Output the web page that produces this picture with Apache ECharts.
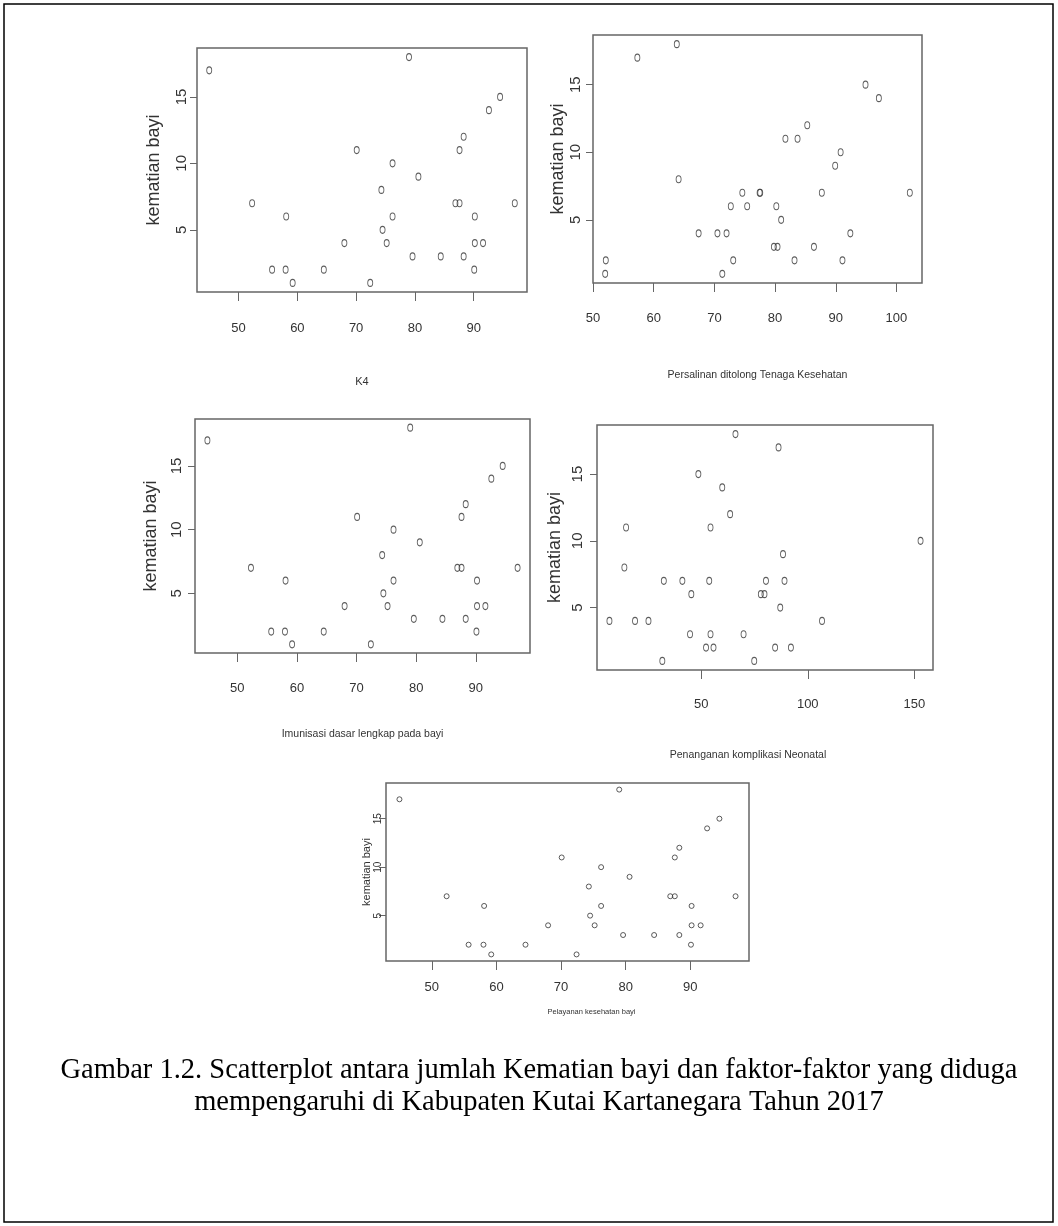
<!DOCTYPE html>
<html>
<head>
<meta charset="utf-8">
<script src="https://cdn.jsdelivr.net/npm/echarts@6/dist/echarts.min.js"></script>
<style>
  html, body { margin: 0; padding: 0; background: #fff; }
  #chart { width: 1058px; height: 1226px; }
</style>
</head>
<body>
<div id="chart"></div>
<script>
// values (kematian bayi vs each factor)
const k4X = [45.0, 52.3, 55.7, 58.0, 58.1, 59.2, 64.5, 68.0, 70.1, 72.4, 74.3, 74.5, 75.2, 76.2, 76.2, 79.0, 79.6, 80.6, 84.4, 86.9, 87.6, 87.6, 88.3, 88.3, 90.2, 90.2, 90.1, 91.6, 92.6, 94.5, 97.0]
const k4Y = [17, 7, 2, 2, 6, 1, 2, 4, 11, 1, 8, 5, 4, 10, 6, 18, 3, 9, 3, 7, 7, 11, 12, 3, 6, 4, 2, 4, 14, 15, 7]

const persalinanX = [52.0, 52.1, 57.3, 63.8, 64.1, 67.4, 70.5, 71.3, 72.0, 72.7, 73.1, 74.6, 75.4, 77.45, 77.55, 79.8, 80.2, 80.4, 81.0, 81.7, 83.2, 83.7, 85.3, 86.4, 87.7, 89.9, 90.8, 91.1, 92.4, 94.9, 97.1, 102.2]
const persalinanY = [1, 2, 17, 18, 8, 4, 4, 1, 4, 6, 2, 7, 6, 7, 7, 3, 6, 3, 5, 11, 2, 11, 12, 3, 7, 9, 10, 2, 4, 15, 14, 7]

const imunisasiX = [45.0, 52.3, 55.7, 58.0, 58.1, 59.2, 64.5, 68.0, 70.1, 72.4, 74.3, 74.5, 75.2, 76.2, 76.2, 79.0, 79.6, 80.6, 84.4, 86.9, 87.6, 87.6, 88.3, 88.3, 90.2, 90.2, 90.1, 91.6, 92.6, 94.5, 97.0]
const imunisasiY = [17, 7, 2, 2, 6, 1, 2, 4, 11, 1, 8, 5, 4, 10, 6, 18, 3, 9, 3, 7, 7, 11, 12, 3, 6, 4, 2, 4, 14, 15, 7]

const neonatalX = [7.0, 14.0, 14.8, 19.0, 25.3, 31.8, 32.5, 41.2, 44.8, 45.4, 48.7, 52.3, 53.8, 54.4, 54.4, 55.8, 59.9, 63.6, 66.1, 69.9, 74.9, 78.0, 79.7, 80.4, 84.7, 86.3, 87.1, 88.4, 89.1, 92.1, 106.7, 152.9]
const neonatalY = [4, 8, 11, 4, 4, 1, 7, 7, 3, 6, 15, 2, 7, 11, 3, 2, 14, 12, 18, 3, 1, 6, 6, 7, 2, 17, 5, 9, 7, 2, 4, 10]

const pelayananX = [45.0, 52.3, 55.7, 58.0, 58.1, 59.2, 64.5, 68.0, 70.1, 72.4, 74.3, 74.5, 75.2, 76.2, 76.2, 79.0, 79.6, 80.6, 84.4, 86.9, 87.6, 87.6, 88.3, 88.3, 90.2, 90.2, 90.1, 91.6, 92.6, 94.5, 97.0]
const pelayananY = [17, 7, 2, 2, 6, 1, 2, 4, 11, 1, 8, 5, 4, 10, 6, 18, 3, 9, 3, 7, 7, 11, 12, 3, 6, 4, 2, 4, 14, 15, 7]

// tick labels
const yTicks = [5, 10, 15]
const xTicks100 = [50, 60, 70, 80, 90]
const xTicksPersalinan = [50, 60, 70, 80, 90, 100]
const xTicksNeonatal = [50, 100, 150]

const yName = 'kematian bayi'
const xNames = [
  'K4',
  'Persalinan ditolong Tenaga Kesehatan',
  'Imunisasi dasar lengkap pada bayi',
  'Penanganan komplikasi Neonatal',
  'Pelayanan kesehatan bayi'
]
const caption = [
  'Gambar 1.2. Scatterplot antara jumlah Kematian bayi dan faktor-faktor yang diduga',
  'mempengaruhi di Kabupaten Kutai Kartanegara Tahun 2017'
]

const NARROW = "'Liberation Sans Narrow', 'Liberation Sans', Arial, sans-serif"
const SANS = "'Liberation Sans', Arial, sans-serif"
const SERIF = "'Liberation Serif', 'Times New Roman', serif"
const RING = 'path://M0,-10A10,10 0 1,1 0,10A10,10 0 1,1 0,-10Z'

// R style axis range: data range padded by 4% each side
function rRange(v) {
  const lo = Math.min(...v)
  const hi = Math.max(...v)
  const d = (hi - lo) * 0.04
  return [lo - d, hi + d]
}

const panels = [
  { x: k4X, y: k4Y, ticks: xTicks100, name: xNames[0],
    grid: { left: 197, top: 48, width: 330, height: 244 },
    xMargin: 30, xGap: 84, yMargin: 8, yGap: 34, shift: 0,
    xFont: 13, xNameFont: 11, yFont: 15, yNameFont: 18, sym: [5, 7] },
  { x: persalinanX, y: persalinanY, ticks: xTicksPersalinan, name: xNames[1],
    grid: { left: 593, top: 35, width: 329, height: 248 },
    xMargin: 29, xGap: 87, yMargin: 10, yGap: 22, shift: 0,
    xFont: 13, xNameFont: 10.5, yFont: 15, yNameFont: 18, sym: [5, 7] },
  { x: imunisasiX, y: imunisasiY, ticks: xTicks100, name: xNames[2],
    grid: { left: 195, top: 419, width: 335, height: 234 },
    xMargin: 29, xGap: 76, yMargin: 11, yGap: 35, shift: 0,
    xFont: 13, xNameFont: 10.5, yFont: 15, yNameFont: 18, sym: [5, 7] },
  { x: neonatalX, y: neonatalY, ticks: xTicksNeonatal, name: xNames[3],
    grid: { left: 597, top: 425, width: 336, height: 245 },
    xMargin: 28, xGap: 80, yMargin: 12, yGap: 33, shift: -17,
    xFont: 13, xNameFont: 10.5, yFont: 15, yNameFont: 18, sym: [5, 7] },
  { x: pelayananX, y: pelayananY, ticks: xTicks100, name: xNames[4],
    grid: { left: 386, top: 783, width: 363, height: 178 },
    xMargin: 20, xGap: 47, yMargin: 3, yGap: 10, shift: 24,
    xFont: 13, xNameFont: 7.5, yFont: 10, yNameFont: 11, sym: [5, 5] }
]

const grid = []
const xAxis = []
const yAxis = []
const series = []

panels.forEach((p, i) => {
  grid.push(Object.assign({
    show: true,
    borderColor: '#666',
    borderWidth: 1.5,
    backgroundColor: 'transparent',
    containLabel: false,
    outerBoundsMode: 'none'
  }, p.grid))

  const xr = rRange(p.x)
  xAxis.push({
    type: 'value',
    gridIndex: i,
    min: xr[0],
    max: xr[1],
    name: p.name,
    nameLocation: 'middle',
    nameGap: p.xGap,
    nameTextStyle: {
      fontFamily: NARROW,
      fontSize: p.xNameFont,
      color: '#333',
      padding: p.shift >= 0 ? [0, 0, 0, p.shift * 2] : [0, -p.shift * 2, 0, 0]
    },
    axisLine: { show: false },
    splitLine: { show: false },
    axisTick: { show: true, inside: false, length: 9, customValues: p.ticks, lineStyle: { color: '#666', width: 1 } },
    axisLabel: { show: true, margin: p.xMargin, customValues: p.ticks, fontFamily: NARROW, fontSize: p.xFont, color: '#333' }
  })

  const yr = rRange(p.y)
  yAxis.push({
    type: 'value',
    gridIndex: i,
    min: yr[0],
    max: yr[1],
    name: yName,
    nameLocation: 'middle',
    nameRotate: 90,
    nameGap: p.yGap,
    nameTextStyle: { fontFamily: SANS, fontSize: p.yNameFont, color: '#333' },
    axisLine: { show: false },
    splitLine: { show: false },
    axisTick: { show: true, inside: false, length: 7, customValues: yTicks, lineStyle: { color: '#666', width: 1 } },
    axisLabel: { show: true, rotate: 90, margin: p.yMargin, customValues: yTicks, fontFamily: SANS, fontSize: p.yFont, color: '#333' }
  })

  series.push({
    type: 'scatter',
    xAxisIndex: i,
    yAxisIndex: i,
    symbol: RING,
    symbolSize: p.sym,
    silent: true,
    itemStyle: { color: 'rgba(255,255,255,0)', borderColor: '#333', borderWidth: 1 },
    data: p.x.map((v, k) => [v, p.y[k]])
  })
})

const myChart = echarts.init(document.getElementById('chart'), null, { renderer: 'canvas' })
const option = {
  backgroundColor: '#fff',
  animation: false,
  grid: grid,
  xAxis: xAxis,
  yAxis: yAxis,
  series: series,
  graphic: [
    {
      type: 'rect',
      shape: { x: 4, y: 4, width: 1049, height: 1218 },
      style: { fill: 'none', stroke: '#000', lineWidth: 1.5 },
      silent: true
    },
    {
      type: 'text',
      x: 539,
      y: 1071,
      style: { text: caption[0], fontFamily: SERIF, fontSize: 28.5, fill: '#000', align: 'center', verticalAlign: 'middle' },
      silent: true
    },
    {
      type: 'text',
      x: 539,
      y: 1103,
      style: { text: caption[1], fontFamily: SERIF, fontSize: 28.5, fill: '#000', align: 'center', verticalAlign: 'middle' },
      silent: true
    }
  ]
}
myChart.setOption(option)
window.addEventListener('resize', function () {
  myChart.resize()
})
</script>
</body>
</html>
